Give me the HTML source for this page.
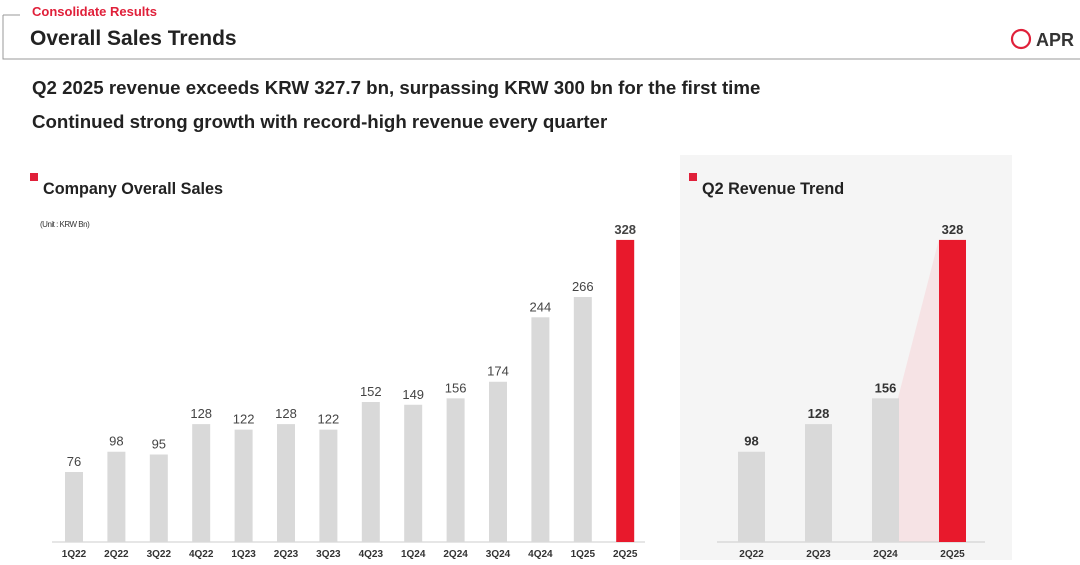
<!DOCTYPE html>
<html><head><meta charset="utf-8"><style>
body{margin:0;width:1080px;height:560px;overflow:hidden;background:#fff;font-family:"Liberation Sans",Arial,sans-serif;}
</style></head><body>
<svg width="1080" height="560" xmlns="http://www.w3.org/2000/svg" font-family="Liberation Sans, Arial, sans-serif">
<rect x="680" y="155" width="332" height="405" fill="#f5f5f5"/>
<path d="M3 15 H20 M3 15 V59 H1080" stroke="#999" stroke-width="1" fill="none"/>
<text x="32" y="16" font-size="13" font-weight="bold" fill="#e0203a">Consolidate Results</text>
<text x="30" y="45" font-size="21" font-weight="bold" fill="#222">Overall Sales Trends</text>
<circle cx="1021" cy="39" r="9" fill="none" stroke="#e0203a" stroke-width="2.2"/>
<text x="1036" y="46" font-size="18" font-weight="bold" fill="#333">APR</text>
<text x="32" y="94" font-size="18.7" font-weight="bold" fill="#222">Q2 2025 revenue exceeds KRW 327.7 bn, surpassing KRW 300 bn for the first time</text>
<text x="32" y="128" font-size="18.7" font-weight="bold" fill="#222">Continued strong growth with record-high revenue every quarter</text>
<rect x="30" y="173" width="8" height="8" fill="#e0203a"/>
<text x="43" y="194" font-size="16.2" font-weight="bold" fill="#222">Company Overall Sales</text>
<text x="40" y="227" font-size="8" fill="#333" letter-spacing="-0.5">(Unit : KRW Bn)</text>
<rect x="689" y="173" width="8" height="8" fill="#e0203a"/>
<text x="702" y="194" font-size="16.2" font-weight="bold" fill="#222">Q2 Revenue Trend</text>
<line x1="52" y1="542" x2="645" y2="542" stroke="#ccc"/>
<polygon points="898,398 939,239 939,542 898,542" fill="#f6e3e5"/>
<line x1="717" y1="542" x2="985" y2="542" stroke="#ccc"/>
</svg>
<script>
var ns="http://www.w3.org/2000/svg";
function el(p,t,a,txt){var e=document.createElementNS(ns,t);for(var k in a)e.setAttribute(k,a[k]);if(txt)e.textContent=txt;p.appendChild(e);return e;}
var s=document.querySelector('svg');
var v=[76,98,95,128,122,128,122,152,149,156,174,244,266,328];
var n=["1Q22","2Q22","3Q22","4Q22","1Q23","2Q23","3Q23","4Q23","1Q24","2Q24","3Q24","4Q24","1Q25","2Q25"];
for(var i=0;i<14;i++){var x=65+i*42.4,h=v[i]*0.921,r=i==13;
el(s,'rect',{x:x,y:542-h,width:18,height:h,fill:r?'#e8192c':'#d9d9d9'});
el(s,'text',{x:x+9,y:536-h,'font-size':13,fill:'#444','text-anchor':'middle','font-weight':r?'bold':'normal'},String(v[i]));
el(s,'text',{x:x+9,y:557,'font-size':10,'font-weight':'bold',fill:'#333','text-anchor':'middle'},n[i]);}
var rv=[98,128,156,328],rn=["2Q22","2Q23","2Q24","2Q25"];
for(var j=0;j<4;j++){var x=738+j*67,h=rv[j]*0.921,r=j==3;
el(s,'rect',{x:x,y:542-h,width:27,height:h,fill:r?'#e8192c':'#d9d9d9'});
el(s,'text',{x:x+13.5,y:536-h,'font-size':13,'font-weight':'bold',fill:'#333','text-anchor':'middle'},String(rv[j]));
el(s,'text',{x:x+13.5,y:557,'font-size':10,'font-weight':'bold',fill:'#333','text-anchor':'middle'},rn[j]);}
</script>
</body></html>
